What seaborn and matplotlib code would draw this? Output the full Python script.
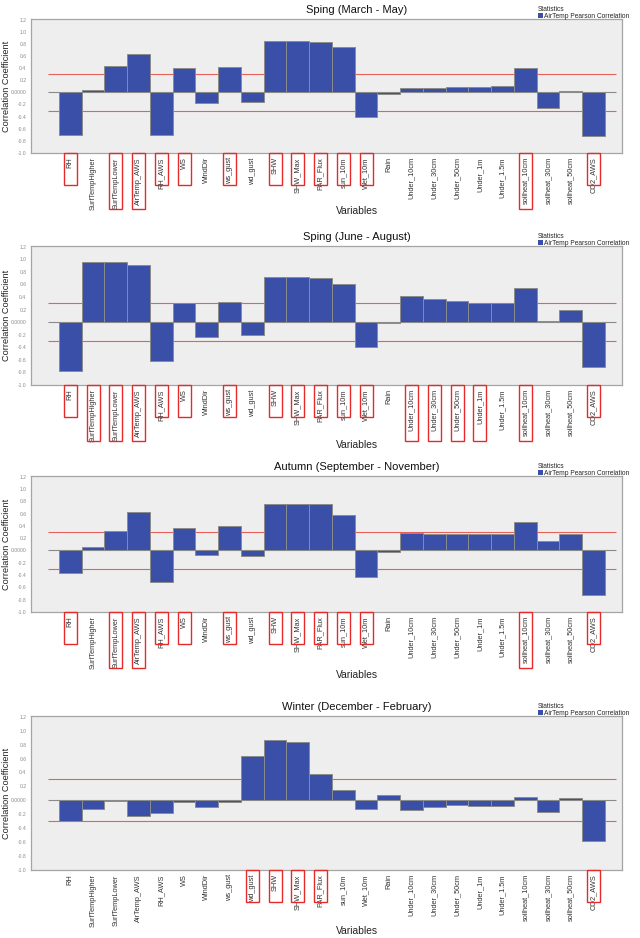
import numpy as np
import pandas as pd
import matplotlib
matplotlib.use("Agg")
import matplotlib.pyplot as plt
import seaborn as sns
from matplotlib.patches import Patch, Rectangle

# =========================
# Data
# =========================
variables = ["RH", "SurfTempHigher", "SurfTempLower", "AirTemp_AWS", "RH_AWS", "WS",
             "WindDir", "ws_gust", "wd_gust", "SHW", "SHW_Max", "PAR_Flux", "sun_10m",
             "Wet_10m", "Rain", "Under_10cm", "Under_30cm", "Under_50cm", "Under_1m",
             "Under_1.5m", "soilheat_10cm", "soilheat_30cm", "soilheat_50cm", "CO2_AWS"]

spring = [-0.71, 0.04, 0.43, 0.63, -0.71, 0.40, -0.17, 0.42, -0.16, 0.84, 0.84, 0.83,
          0.75, -0.40, -0.02, 0.07, 0.07, 0.09, 0.09, 0.10, 0.40, -0.25, 0.03, -0.72]
summer = [-0.78, 0.95, 0.96, 0.91, -0.62, 0.30, -0.23, 0.32, -0.21, 0.71, 0.71, 0.70,
          0.60, -0.40, -0.01, 0.42, 0.36, 0.34, 0.31, 0.30, 0.55, 0.02, 0.20, -0.71]
autumn = [-0.36, 0.06, 0.32, 0.62, -0.52, 0.37, -0.07, 0.40, -0.09, 0.75, 0.75, 0.75,
          0.58, -0.43, -0.03, 0.28, 0.27, 0.27, 0.27, 0.27, 0.46, 0.16, 0.26, -0.73]
winter = [-0.29, -0.13, -0.01, -0.23, -0.18, -0.02, -0.09, -0.03, 0.64, 0.86, 0.83, 0.38,
          0.15, -0.13, 0.08, -0.14, -0.09, -0.07, -0.08, -0.08, 0.05, -0.17, 0.04, -0.58]

titles = ["Sping (March - May)", "Sping (June - August)",
          "Autumn (September - November)", "Winter (December - February)"]

hl_spring = ["RH", "SurfTempLower", "AirTemp_AWS", "RH_AWS", "WS", "ws_gust", "SHW",
             "SHW_Max", "PAR_Flux", "sun_10m", "Wet_10m", "soilheat_10cm", "CO2_AWS"]
hl_summer = ["RH", "SurfTempHigher", "SurfTempLower", "AirTemp_AWS", "RH_AWS", "WS",
             "ws_gust", "SHW", "SHW_Max", "PAR_Flux", "sun_10m", "Wet_10m", "Under_10cm",
             "Under_30cm", "Under_50cm", "Under_1m", "soilheat_10cm", "CO2_AWS"]
hl_autumn = ["RH", "SurfTempLower", "AirTemp_AWS", "RH_AWS", "WS", "ws_gust", "SHW",
             "SHW_Max", "PAR_Flux", "sun_10m", "Wet_10m", "soilheat_10cm", "CO2_AWS"]
hl_winter = ["wd_gust", "SHW", "SHW_Max", "PAR_Flux", "CO2_AWS"]

threshold = 0.3
yticks = [-1.0, -0.8, -0.6, -0.4, -0.2, 0.0, 0.2, 0.4, 0.6, 0.8, 1.0, 1.2]

# =========================
# Style
# =========================
sns.set_style("white")
plt.rcParams["font.family"] = ["Liberation Sans", "DejaVu Sans"]
NARROW = ["Liberation Sans Narrow", "Liberation Sans", "DejaVu Sans"]

BAR = "#3A4FA7"
EDGE = "#8C8C8C"
FACE = "#EEEEEE"
SPINE = "#A5A5A5"
RED = "#E8605A"

W, H = 640, 938
fig = plt.figure(figsize=(W / 100, H / 100), dpi=100)

# axes boxes in pixels: (top, bottom)
boxes = [(19, 153), (246, 385), (476, 612), (716, 870)]
xlab_y = [211, 445, 675, 931]
left_px, right_px = 30.5, 622

series = [spring, summer, autumn, winter]
highlights = [hl_spring, hl_summer, hl_autumn, hl_winter]

axes = []
for k in range(4):
    top, bot = boxes[k]
    ax = fig.add_axes([left_px / W, 1 - bot / H, (right_px - left_px) / W, (bot - top) / H])
    axes.append(ax)
    df = pd.DataFrame({"variable": variables, "value": series[k]})

    ax.set_facecolor(FACE)
    ax.hlines(0, -1, 24, color="#8A8A8A", lw=0.8, zorder=1)
    ax.hlines([threshold, -threshold], -1, 24, color=RED, lw=0.8, zorder=1)

    sns.barplot(data=df, x="variable", y="value", ax=ax, color=BAR, saturation=1,
                width=1.0, edgecolor=EDGE, linewidth=0.7, zorder=2)

    ax.set_xlim(-1.75, 24.25)
    ax.set_ylim(-1.0, 1.21)
    ax.set_yticks(yticks)
    ax.set_yticklabels(["0.0000" if v == 0 else f"{v:.1f}" for v in yticks],
                       fontsize=3.6, color="#8A8A8A", family=NARROW)
    ax.set_xticks(range(len(variables)))
    ax.set_xticklabels(variables, rotation=90, fontsize=5.3, color="#333333", family=NARROW)
    ax.tick_params(axis="both", length=2.5, width=0.5, color="#8A8A8A", pad=0.5)
    for s in ax.spines.values():
        s.set_color(SPINE)
        s.set_linewidth(0.9)

    ax.set_xlabel("")
    ax.set_ylabel("Correlation Coefficient", fontsize=6.6, color="#222222")
    ax.yaxis.set_label_coords(-(left_px - 11) / (right_px - left_px), 0.5)
    ax.set_title(titles[k], fontsize=8, color="#111111", x=(357 - left_px) / (right_px - left_px),
                 pad=4)
    fig.text(357 / W, 1 - xlab_y[k] / H, "Variables", fontsize=7.4, ha="center", va="center",
             color="#222222")

    leg = ax.legend(handles=[Patch(facecolor=BAR, edgecolor="none",
                                   label="AirTemp Pearson Correlation")],
                    title="Statistics", loc="lower right", bbox_to_anchor=(1.012, 0.995),
                    frameon=False, fontsize=4.8, title_fontsize=4.8, handlelength=0.7,
                    handleheight=0.7, handletextpad=0.2, borderpad=0, borderaxespad=0,
                    labelspacing=0)
    leg._legend_box.align = "left"

# =========================
# Red boxes around the significant variables
# =========================
fig.canvas.draw()
renderer = fig.canvas.get_renderer()
inv = fig.transFigure.inverted()
for ax, hl in zip(axes, highlights):
    y_top = ax.get_window_extent(renderer).y0
    for lab in ax.get_xticklabels():
        name = lab.get_text()
        if name not in hl:
            continue
        bb = lab.get_window_extent(renderer)
        cx = (bb.x0 + bb.x1) / 2
        h = 56 if (len(name) > 8 or name.startswith("Under")) else 32
        (x0, y0), (x1, y1) = inv.transform([(cx - 6.5, y_top - h), (cx + 6.5, y_top)])
        fig.add_artist(Rectangle((x0, y0), x1 - x0, y1 - y0, transform=fig.transFigure,
                                 fill=False, edgecolor="#E62A2A", lw=1.0))

fig.savefig("out.png", dpi=100)
plt.close(fig)
